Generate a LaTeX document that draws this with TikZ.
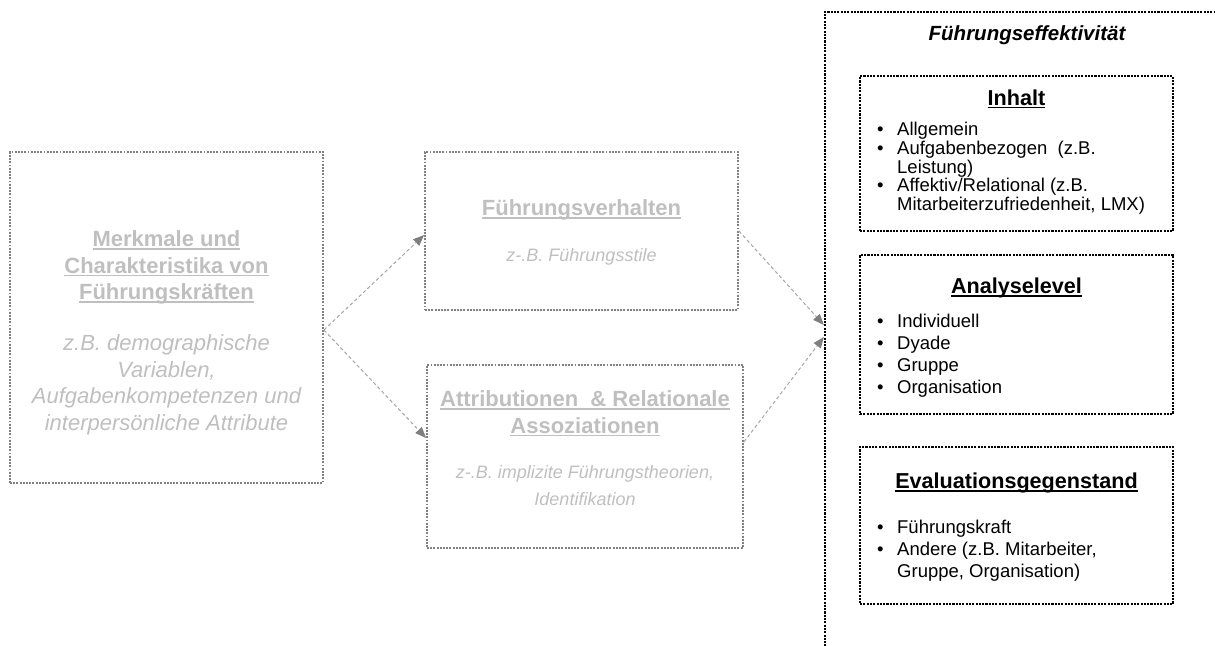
\documentclass[tikz,border=0pt]{standalone}
\usepackage{fontspec}
\setmainfont{Liberation Sans}
\usetikzlibrary{arrows.meta,calc}
\definecolor{boxgray}{HTML}{808080}
\definecolor{txtgray}{HTML}{BFBFBF}
\definecolor{arrgray}{HTML}{A6A6A6}
\definecolor{headgray}{HTML}{7F7F7F}
\newcommand\ulin[1]{\setbox0\hbox{#1}\rlap{\rule[-3.2pt]{\wd0}{1.6pt}}\box0}
\newcommand\fs[2]{\fontsize{#1}{#2}\selectfont}
\newcommand\bul{\makebox[23pt][l]{\kern3pt•}}
\tikzset{
  graybox/.style={draw=boxgray, line width=1.8pt, dash pattern=on 1.9pt off 1.3pt, inner sep=0pt},
  blackbox/.style={draw=black, line width=2.3pt, dash pattern=on 2.1pt off 1.2pt, inner sep=0pt},
  graytitle/.style={text=txtgray, font=\bfseries\fs{22}{26.6}, align=center, inner sep=0pt},
  graysub/.style={text=txtgray, align=center, inner sep=0pt},
  blacktitle/.style={text=black, font=\bfseries\fs{21.6}{26}, align=center, inner sep=0pt},
  itemlist/.style={text=black, anchor=north west, inner sep=0pt, align=left},
  conn/.style={draw=arrgray, line width=1pt, dash pattern=on 3.5pt off 2.5pt,
    -{Triangle[length=11pt,width=9pt,fill=headgray,line width=0pt]}},
}
\begin{document}
\begin{tikzpicture}[x=1pt,y=-1pt]
\useasboundingbox (0,0) rectangle (1215,645);
\clip (0,0) rectangle (1215,645);

% left column
\node[graybox, minimum width=313pt, minimum height=331pt] (L) at (166.5,317.5) {};
\node[graytitle] (Lt) at (166.5,267.5) {\ulin{Merkmale und}\\\ulin{Charakteristika von}\\\ulin{Führungskräften}};
\node[graysub, font=\itshape\fs{22}{26.6}] (Ls) at (166.5,385) {z.B. demographische\\Variablen,\\Aufgabenkompetenzen und\\interpersönliche Attribute};

% middle column
\node[graybox, minimum width=313pt, minimum height=158pt] (FV) at (581.5,231) {};
\node[graytitle] (FVt) at (581.5,210) {\ulin{Führungsverhalten}};
\node[graysub, font=\itshape\fs{18}{26.6}] (FVs) at (581.5,257) {z-.B. Führungsstile};

\node[graybox, minimum width=316pt, minimum height=183pt] (AT) at (585,456.5) {};
\node[graytitle] (ATt) at (585,413.5) {\ulin{Attributionen \ \& Relationale}\\\ulin{Assoziationen}};
\node[graysub, font=\itshape\fs{18}{26.6}] (ATs) at (585,485.5) {z-.B. implizite Führungstheorien,\\Identifikation};

% right column
\node[blackbox, minimum width=410pt, minimum height=653pt] (E) at (1030,338.5) {};
\node[inner sep=0pt, font=\bfseries\itshape\fs{20.5}{24}] (Et) at (1027,35) {Führungseffektivität};

\node[blackbox, minimum width=313pt, minimum height=155pt] (I1) at (1016.5,153.5) {};
\node[blacktitle] (I1t) at (1016.5,99) {\ulin{Inhalt}};
\node[itemlist, font=\fs{18.5}{18.4}] (I1l) at (874,121.6) {%
\begin{tabular}{@{}l@{}}
\bul Allgemein\\
\bul Aufgabenbezogen \ (z.B.\\
\makebox[23pt]{}Leistung)\\
\bul Affektiv/Relational (z.B.\\
\makebox[23pt]{}Mitarbeiterzufriedenheit, LMX)
\end{tabular}};

\node[blackbox, minimum width=313pt, minimum height=159pt] (I2) at (1016.5,334.5) {};
\node[blacktitle] (I2t) at (1016.5,288) {\ulin{Analyselevel}};
\node[itemlist, font=\fs{18.5}{22}] (I2l) at (874,312.1) {%
\begin{tabular}{@{}l@{}}
\bul Individuell\\
\bul Dyade\\
\bul Gruppe\\
\bul Organisation
\end{tabular}};

\node[blackbox, minimum width=313pt, minimum height=157pt] (I3) at (1016.5,525.5) {};
\node[blacktitle] (I3t) at (1016.5,483) {\ulin{Evaluationsgegenstand}};
\node[itemlist, font=\fs{18.5}{22}] (I3l) at (874,518.1) {%
\begin{tabular}{@{}l@{}}
\bul Führungskraft\\
\bul Andere (z.B. Mitarbeiter,\\
\makebox[23pt]{}Gruppe, Organisation)
\end{tabular}};

% connectors
\draw[conn] ([yshift=-12.5pt]L.east) -- ([yshift=-4pt]FV.west);
\draw[conn] ([yshift=-12.5pt]L.east) -- ([yshift=18.5pt]AT.west);
\draw[conn] (FV.east) -- ([yshift=13.5pt]E.west);
\draw[conn] ([yshift=14.5pt]AT.east) -- ([yshift=1.5pt]E.west);
\end{tikzpicture}
\end{document}
